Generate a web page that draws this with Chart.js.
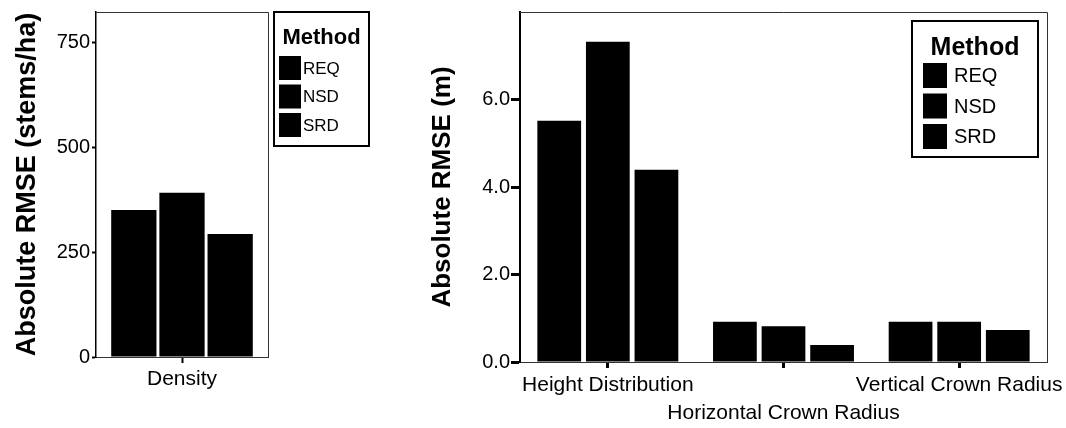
<!DOCTYPE html>
<html>
<head>
<meta charset="utf-8">
<script src="https://cdn.jsdelivr.net/npm/chart.js@4"></script>
<style>
  body { margin: 0; background: #fff; }
  .panel { position: absolute; top: 0; height: 428px; }
  #left { left: 0; width: 380px; }
  #right { left: 400px; width: 666px; }
</style>
</head>
<body>
<div class="panel" id="left"><canvas id="densityChart"></canvas></div>
<div class="panel" id="right"><canvas id="rmseChart"></canvas></div>
<script>
// methodes (legende)
const methods = ["REQ", "NSD", "SRD"];
const methodColors = ["#000000", "#000000", "#000000"];

// panneau gauche : densite
const densityCategories = ["Density"];
const densityReq = [351];
const densityNsd = [392];
const densitySrd = [294];
const densityTicks = [0, 250, 500, 750];

// panneau droit : RMSE en metres
const rmseCategories = ["Height Distribution", "Horizontal Crown Radius", "Vertical Crown Radius"];
const rmseReq = [5.52, 0.92, 0.92];
const rmseNsd = [7.33, 0.82, 0.92];
const rmseSrd = [4.40, 0.39, 0.73];
const rmseTicks = [0, 2, 4, 6];

const FONT = "'Liberation Sans', Arial, Helvetica, sans-serif";
Chart.defaults.font.family = FONT;
Chart.defaults.color = "#000";
Chart.defaults.animation = false;

// cadre haut + droite de la zone de trace
const framePlugin = {
    id: "frame",
    afterDraw(chart) {
        const a = chart.chartArea;
        const ctx = chart.ctx;
        ctx.save();
        ctx.strokeStyle = "#333";
        ctx.lineWidth = 1;
        ctx.beginPath();
        ctx.moveTo(a.left, a.top + 0.5);
        ctx.lineTo(a.right + 0.5, a.top + 0.5);
        ctx.lineTo(a.right + 0.5, a.bottom);
        ctx.stroke();
        ctx.restore();
    }
};

// legende encadree "Method"
const boxLegendPlugin = {
    id: "boxLegend",
    afterDraw(chart, args, o) {
        const ctx = chart.ctx;
        ctx.save();
        ctx.fillStyle = "#fff";
        ctx.fillRect(o.x, o.y, o.w, o.h);
        ctx.strokeStyle = "#000";
        ctx.lineWidth = 2;
        ctx.strokeRect(o.x, o.y, o.w, o.h);
        ctx.fillStyle = "#000";
        ctx.textAlign = "center";
        ctx.textBaseline = "middle";
        ctx.font = "bold " + o.titleSize + "px " + FONT;
        ctx.fillText("Method", o.x + o.w / 2, o.y + o.titleY);
        ctx.textAlign = "left";
        ctx.font = o.labelSize + "px " + FONT;
        chart.data.datasets.forEach((ds, i) => {
            const top = o.y + o.rowTop + i * o.rowStep;
            ctx.fillStyle = ds.backgroundColor;
            ctx.fillRect(o.x + o.swX, top, o.swW, o.swH);
            ctx.fillStyle = "#000";
            ctx.fillText(ds.label, o.x + o.textX, top + o.swH / 2 + 1);
        });
        ctx.restore();
    }
};

function makeDatasets(series, catPct, barPct) {
    return methods.map((m, i) => ({
        label: m,
        data: series[i],
        backgroundColor: methodColors[i],
        borderWidth: 0,
        categoryPercentage: catPct,
        barPercentage: barPct
    }));
}

// taille fixe de l'axe x, sans marge pour les etiquettes qui debordent
function fixX(h) {
    return s => { s.height = h; s.paddingLeft = 0; s.paddingRight = 0; };
}

// graphique gauche
new Chart(document.getElementById("densityChart"), {
    type: "bar",
    data: {
        labels: densityCategories,
        datasets: makeDatasets([densityReq, densityNsd, densitySrd], 0.84, 0.94)
    },
    options: {
        responsive: true,
        maintainAspectRatio: false,
        layout: { padding: { left: 0, top: 12, right: 112, bottom: 0 } },
        plugins: {
            legend: { display: false },
            tooltip: { enabled: false },
            boxLegend: {
                x: 274, y: 12, w: 95, h: 134,
                titleSize: 22, titleY: 26, labelSize: 17,
                rowTop: 44, rowStep: 28.5, swX: 5, swW: 22, swH: 24, textX: 29
            }
        },
        scales: {
            x: {
                afterFit: fixX(71),
                grid: { offset: false, drawOnChartArea: false, tickLength: 6, tickWidth: 2, tickColor: "#000" },
                border: { color: "#333", width: 1 },
                ticks: { font: { size: 21 }, padding: 4, maxRotation: 0, autoSkip: false }
            },
            y: {
                min: 0, max: 824,
                afterFit: s => { s.width = 96; s.paddingTop = 0; s.paddingBottom = 0; },
                afterBuildTicks: s => { s.ticks = densityTicks.map(v => ({ value: v })); },
                title: { display: true, text: "Absolute RMSE (stems/ha)", font: { size: 27, weight: "bold" }, padding: { top: 11, bottom: 0 } },
                grid: { drawOnChartArea: false, tickLength: 4, tickWidth: 2, tickColor: "#000" },
                border: { color: "#000", width: 1.5 },
                ticks: { font: { size: 20 }, padding: 2 }
            }
        }
    },
    plugins: [framePlugin, boxLegendPlugin]
});

// graphique droit
new Chart(document.getElementById("rmseChart"), {
    type: "bar",
    data: {
        labels: rmseCategories,
        datasets: makeDatasets([rmseReq, rmseNsd, rmseSrd], 0.83, 0.9)
    },
    options: {
        responsive: true,
        maintainAspectRatio: false,
        layout: { padding: { left: 0, top: 12, right: 19, bottom: 0 } },
        plugins: {
            legend: { display: false },
            tooltip: { enabled: false },
            boxLegend: {
                x: 512, y: 21, w: 126, h: 136,
                titleSize: 25, titleY: 27, labelSize: 20,
                rowTop: 42, rowStep: 30.5, swX: 11, swW: 24, swH: 25, textX: 42
            }
        },
        scales: {
            x: {
                afterFit: fixX(66),
                grid: { offset: false, drawOnChartArea: false, tickLength: 6, tickWidth: 3, tickColor: "#000" },
                border: { color: "#333", width: 1 },
                ticks: {
                    font: { size: 21, lineHeight: 1.3 }, padding: 4, maxRotation: 0, minRotation: 0, autoSkip: false,
                    // etiquette du milieu decalee vers le bas
                    callback: function (v, i) {
                        const lab = this.getLabelForValue(v);
                        return i % 2 === 1 ? ["", lab] : lab;
                    }
                }
            },
            y: {
                min: 0, max: 8.01,
                afterFit: s => { s.width = 120; s.paddingTop = 0; s.paddingBottom = 0; },
                afterBuildTicks: s => { s.ticks = rmseTicks.map(v => ({ value: v })); },
                title: { display: true, text: "Absolute RMSE (m)", font: { size: 26, weight: "bold" }, padding: { top: 27, bottom: 0 } },
                grid: { drawOnChartArea: false, tickLength: 9, tickWidth: 3, tickColor: "#000" },
                border: { color: "#000", width: 2 },
                ticks: { font: { size: 20 }, padding: 1, callback: v => v.toFixed(1) }
            }
        }
    },
    plugins: [framePlugin, boxLegendPlugin]
});
</script>
</body>
</html>
